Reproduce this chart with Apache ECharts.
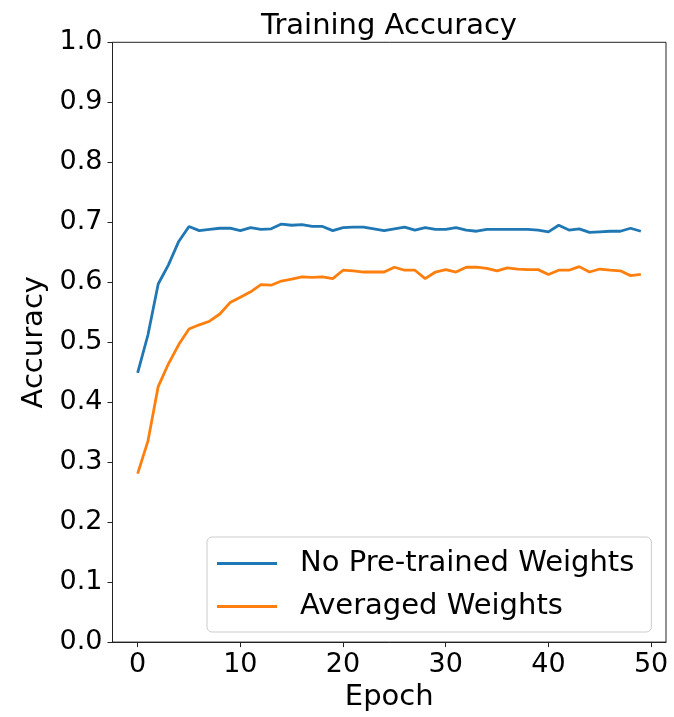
<!DOCTYPE html>
<html>
<head>
<meta charset="utf-8">
<script src="https://cdn.jsdelivr.net/npm/echarts@6/dist/echarts.min.js"></script>
<style>html,body{margin:0;padding:0;background:#fff;}#c{width:674px;height:717px;}</style>
</head>
<body>
<div id="c"></div>
<script>
const epochs = [0,1,2,3,4,5,6,7,8,9,10,11,12,13,14,15,16,17,18,19,20,21,22,23,24,25,26,27,28,29,30,31,32,33,34,35,36,37,38,39,40,41,42,43,44,45,46,47,48,49];
const noPretrained = [0.449,0.512,0.597,0.629,0.668,0.693,0.686,0.688,0.690,0.690,0.686,0.691,0.688,0.689,0.697,0.695,0.696,0.693,0.693,0.686,0.691,0.692,0.692,0.689,0.686,0.689,0.692,0.687,0.691,0.688,0.688,0.691,0.687,0.685,0.688,0.688,0.688,0.688,0.688,0.687,0.684,0.695,0.687,0.689,0.683,0.684,0.685,0.685,0.690,0.685];
const averaged = [0.281,0.335,0.426,0.464,0.496,0.522,0.529,0.535,0.547,0.566,0.575,0.584,0.596,0.595,0.602,0.605,0.609,0.608,0.609,0.606,0.620,0.619,0.617,0.617,0.617,0.625,0.620,0.620,0.606,0.617,0.621,0.617,0.625,0.625,0.623,0.619,0.624,0.622,0.621,0.621,0.613,0.620,0.620,0.626,0.617,0.622,0.620,0.619,0.611,0.613];
const xTicks = [0,10,20,30,40,50];
const seriesNames = ['No Pre-trained Weights','Averaged Weights'];
const colors = ['#1f77b4','#ff7f0e'];

const font = 'DejaVu Sans';
const chart = echarts.init(document.getElementById('c'), null, {renderer:'canvas'});
const pairs = arr => epochs.map((e,i)=>[e, arr[i]]);
chart.setOption({
  animation:false,
  backgroundColor:'#fff',
  title:{text:'Training Accuracy', left:389, textAlign:'center', top:12, padding:0,
    textStyle:{fontFamily:font, fontSize:29, fontWeight:'normal', color:'#000'}},
  grid:{left:112.5, right:8, top:42.3, bottom:69.5, show:true, borderColor:'#222', borderWidth:1, backgroundColor:'transparent'},
  legend:{orient:'vertical', left:207, top:537, icon:'rect', itemWidth:60, itemHeight:3, itemGap:14,
    padding:[12,17,11,10], backgroundColor:'rgba(255,255,255,0.8)', borderColor:'#ccc', borderWidth:1, borderRadius:5,
    textStyle:{fontFamily:font, fontSize:29, color:'#000', padding:[0,0,0,18]},
    data:seriesNames},
  xAxis:{type:'value', min:-2.45, max:51.45,
    name:'Epoch', nameLocation:'middle', nameGap:38,
    nameTextStyle:{fontFamily:font, fontSize:29, color:'#000'},
    axisLine:{show:true, onZero:false, lineStyle:{color:'#222', width:1}},
    axisTick:{show:true, inside:false, length:5, lineStyle:{color:'#222'}, customValues:xTicks},
    axisLabel:{fontFamily:font, fontSize:27, color:'#000', margin:9, customValues:xTicks},
    splitLine:{show:false}},
  yAxis:{type:'value', min:0, max:1, interval:0.1,
    name:'Accuracy', nameLocation:'middle', nameGap:62,
    nameTextStyle:{fontFamily:font, fontSize:29, color:'#000'},
    axisLine:{show:true, onZero:false, lineStyle:{color:'#222', width:1}},
    axisTick:{show:true, inside:false, length:5, lineStyle:{color:'#222'}},
    axisLabel:{fontFamily:font, fontSize:27, color:'#000', margin:10, formatter:v=>v.toFixed(1)},
    splitLine:{show:false}},
  series:[
    {name:seriesNames[0], type:'line', data:pairs(noPretrained), showSymbol:false, symbol:'none', color:colors[0], lineStyle:{width:2.8, color:colors[0]}},
    {name:seriesNames[1], type:'line', data:pairs(averaged), showSymbol:false, symbol:'none', color:colors[1], lineStyle:{width:2.8, color:colors[1]}}
  ]
});
</script>
</body>
</html>
